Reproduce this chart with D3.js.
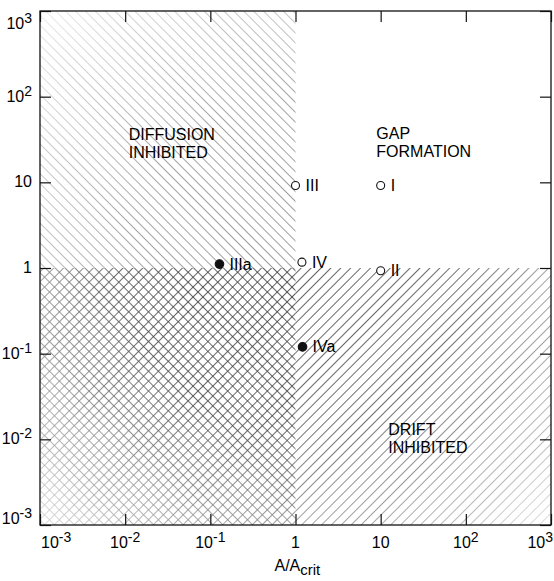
<!DOCTYPE html>
<html>
<head>
<meta charset="utf-8">
<script src="https://cdn.jsdelivr.net/npm/d3@7"></script>
<style>
  body { margin: 0; background: #fff; }
  text { font-family: "Liberation Sans", Arial, Helvetica, sans-serif; fill: #000; }
</style>
</head>
<body>
<svg id="chart"></svg>
<script>
// data
const tickVals = [1e-3, 1e-2, 1e-1, 1, 10, 1e2, 1e3];
const tickBase = ["10", "10", "10", "1", "10", "10", "10"];
const tickExp = ["-3", "-2", "-1", "", "", "2", "3"];

const pointNames = ["I", "II", "III", "IV", "IIIa", "IVa"];
const pointX = [10, 10, 1, 1.19, 0.128, 1.21];
const pointY = [9.2, 0.93, 9.2, 1.17, 1.11, 0.12];
const pointFilled = [false, false, false, false, true, true];

const regionLines = [["DIFFUSION", "INHIBITED"], ["GAP", "FORMATION"], ["DRIFT", "INHIBITED"]];
const regionX = [0.011, 8.9, 12.3];
const regionY = [31, 32, 0.0112];

var W = 554, H = 581;
var margin = { top: 11, right: 3, bottom: 56, left: 40 },
    width = W - margin.left - margin.right,
    height = H - margin.top - margin.bottom;

const svg = d3.select("#chart").attr("width", W).attr("height", H);

var x = d3.scaleLog().domain([1e-3, 1e3]).range([margin.left, margin.left + width]);
var y = d3.scaleLog().domain([1e-3, 1e3]).range([margin.top + height, margin.top]);

// hatch patterns
const defs = svg.append("defs");
function hatch(id, angles, color, sw) {
    const p = defs.append("pattern")
        .attr("id", id)
        .attr("patternUnits", "userSpaceOnUse")
        .attr("width", 7).attr("height", 7)
        .attr("patternTransform", "rotate(45)");
    angles.forEach(a => {
        if (a === "v") p.append("line").attr("x1", 3.5).attr("y1", 0).attr("x2", 3.5).attr("y2", 7);
        else p.append("line").attr("x1", 0).attr("y1", 3.5).attr("x2", 7).attr("y2", 3.5);
    });
    p.selectAll("line").attr("stroke", color).attr("stroke-width", sw);
}
hatch("slashBack", ["h"], "#7a7a7a", 0.75);   // "\"
hatch("slashFwd", ["v"], "#444", 0.85);       // "/"
hatch("cross", ["h", "v"], "#333", 0.8);

// fade away from the centre (halftone look)
const grad = defs.append("radialGradient")
    .attr("id", "fade")
    .attr("gradientUnits", "userSpaceOnUse")
    .attr("cx", x(1)).attr("cy", y(1)).attr("r", 370);
grad.append("stop").attr("offset", 0).attr("stop-color", "#fff");
grad.append("stop").attr("offset", 0.45).attr("stop-color", "#e8e8e8");
grad.append("stop").attr("offset", 1).attr("stop-color", "#2a2a2a");
defs.append("mask").attr("id", "fadeMask")
    .append("rect").attr("x", 0).attr("y", 0).attr("width", W).attr("height", H)
    .attr("fill", "url(#fade)");

const regions = svg.append("g").attr("mask", "url(#fadeMask)");
regions.append("rect")
    .attr("x", x(1e-3)).attr("y", y(1e3))
    .attr("width", x(1) - x(1e-3)).attr("height", y(1) - y(1e3))
    .attr("fill", "url(#slashBack)");
regions.append("rect")
    .attr("x", x(1)).attr("y", y(1))
    .attr("width", x(1e3) - x(1)).attr("height", y(1e-3) - y(1))
    .attr("fill", "url(#slashFwd)");
regions.append("rect")
    .attr("x", x(1e-3)).attr("y", y(1))
    .attr("width", x(1) - x(1e-3)).attr("height", y(1e-3) - y(1))
    .attr("fill", "url(#cross)");

// frame
svg.append("rect")
    .attr("x", margin.left).attr("y", margin.top)
    .attr("width", width).attr("height", height)
    .attr("fill", "none").attr("stroke", "#111").attr("stroke-width", 1.3);

// inward ticks on all four sides
const tk = 11;
function noLabels(g) { g.select(".domain").remove(); g.selectAll("text").remove(); g.selectAll("line").attr("stroke", "#111").attr("stroke-width", 1.2); }
svg.append("g").attr("transform", `translate(0,${margin.top + height})`)
    .call(d3.axisBottom(x).tickValues(tickVals).tickSize(-tk)).call(noLabels);
svg.append("g").attr("transform", `translate(0,${margin.top})`)
    .call(d3.axisTop(x).tickValues(tickVals).tickSize(-tk)).call(noLabels);
svg.append("g").attr("transform", `translate(${margin.left},0)`)
    .call(d3.axisLeft(y).tickValues(tickVals).tickSize(-tk)).call(noLabels);
svg.append("g").attr("transform", `translate(${margin.left + width},0)`)
    .call(d3.axisRight(y).tickValues(tickVals).tickSize(-tk)).call(noLabels);

// tick labels
function powLabel(sel, i) {
    sel.append("tspan").text(tickBase[i]);
    if (tickExp[i]) sel.append("tspan").attr("dy", -6).attr("font-size", 14).text(tickExp[i]);
}
tickVals.forEach((v, i) => {
    let xx = x(v);
    let anchor = "middle";
    if (i === 0) { xx = x(v) + 1; anchor = "start"; }
    if (i === tickVals.length - 1) { xx = W - 1; anchor = "end"; }
    const t = svg.append("text").attr("x", xx).attr("y", 548)
        .attr("font-size", 16).attr("text-anchor", anchor);
    powLabel(t, i);

    let yy = y(v) + 5;
    if (i === 0) yy = y(v) - 1;
    if (i === tickVals.length - 1) yy = y(v) + 18;
    const t2 = svg.append("text").attr("x", 32).attr("y", yy)
        .attr("font-size", 16).attr("text-anchor", "end");
    powLabel(t2, i);
});

// x axis title
const xt = svg.append("text").attr("x", x(1) - 21).attr("y", 571).attr("font-size", 16);
xt.append("tspan").text("A/A");
xt.append("tspan").attr("dy", 4).attr("font-size", 15).text("crit");

// region labels
regionLines.forEach((lines, i) => {
    const t = svg.append("text").attr("x", x(regionX[i])).attr("y", y(regionY[i]))
        .attr("font-size", 16);
    lines.forEach((s, j) => t.append("tspan").attr("x", x(regionX[i])).attr("dy", j ? 18 : 0).text(s));
});

// points
const pts = svg.selectAll("g.pt")
    .data(pointNames.map((n, i) => ({ n, x: pointX[i], y: pointY[i], f: pointFilled[i] })))
    .join("g").attr("class", "pt");
pts.append("circle")
    .attr("cx", d => x(d.x)).attr("cy", d => y(d.y))
    .attr("r", d => d.f ? 4.3 : 4)
    .attr("fill", d => d.f ? "#111" : "#fff")
    .attr("stroke", "#111").attr("stroke-width", 1.1);
pts.append("text")
    .attr("x", d => x(d.x) + 10).attr("y", d => y(d.y) + 5.5)
    .attr("font-size", 16)
    .text(d => d.n);
</script>
</body>
</html>
